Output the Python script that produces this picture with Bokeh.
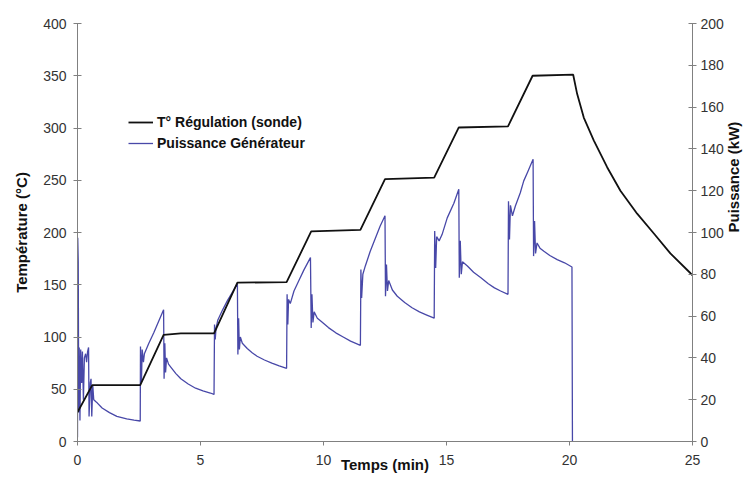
import math
from bokeh.plotting import figure
from bokeh.models import Range1d, LinearAxis, Legend, LegendItem, FixedTicker
from bokeh.embed import file_html
from bokeh.resources import INLINE

# ---- data ----
temp_t = [0.0, 0.6, 2.55, 3.5, 4.2, 5.55, 6.5, 8.5, 9.5, 11.5, 12.5, 14.5, 15.5,
          17.5, 18.5, 20.15, 20.31, 20.58, 20.99, 21.53, 22.07, 22.75, 23.43,
          24.1, 24.92, 25.0]
temp_v = [28, 54, 54, 102, 103.5, 103.5, 152, 152.5, 201, 202.5, 251, 252.5, 300.5,
          301.5, 350, 351, 332.7, 310, 288, 262.5, 240, 218, 199, 180, 161, 159]

power_t = [0.0, 0.01, 0.03, 0.05, 0.07, 0.1, 0.13, 0.17, 0.2, 0.24, 0.28, 0.33,
           0.37, 0.41, 0.45, 0.47, 0.52, 0.55, 0.58, 0.62, 0.66, 0.75, 0.8, 1.0,
           1.3, 1.6, 2.0, 2.3, 2.55,
           2.56, 2.6, 2.63, 2.68, 2.72, 2.9, 3.1, 3.3, 3.5, 3.52, 3.55, 3.58, 3.62,
           3.7, 3.8, 4.0, 4.2, 4.5, 4.8, 5.1, 5.4, 5.55,
           5.57, 5.6, 5.63, 5.7, 5.9, 6.1, 6.3, 6.5, 6.52, 6.55, 6.58, 6.62, 6.7,
           6.9, 7.1, 7.3, 7.6, 7.9, 8.2, 8.5,
           8.52, 8.55, 8.58, 8.65, 8.8, 9.0, 9.2, 9.47, 9.5, 9.53, 9.57, 9.62, 9.75,
           9.9, 10.2, 10.5, 10.8, 11.1, 11.5,
           11.52, 11.55, 11.6, 11.7, 11.9, 12.1, 12.3, 12.5, 12.52, 12.56, 12.6,
           12.65, 12.8, 13.0, 13.3, 13.6, 13.9, 14.2, 14.5,
           14.52, 14.56, 14.6, 14.7, 14.82, 15.03, 15.3, 15.5, 15.52, 15.56, 15.6,
           15.65, 15.85, 16.1, 16.4, 16.7, 16.95, 17.2, 17.5,
           17.52, 17.56, 17.6, 17.68, 17.8, 18.0, 18.14, 18.3, 18.52, 18.54, 18.58,
           18.62, 18.68, 18.8, 18.96, 19.2, 19.5, 19.8, 20.1, 20.12]
power_v = [2, 97.5, 86, 14, 45, 10, 44, 28, 43, 20, 40, 42,
           38, 43, 45, 12, 28, 30, 12, 27, 20, 19, 18.5, 16,
           13.8, 12, 10.8, 10.2, 9.8,
           45.5, 29, 44, 38, 42, 47, 52, 57.5, 63, 30, 47, 33, 40,
           37, 35.5, 32.5, 30, 27.5, 25.5, 24.2, 23.2, 22.5,
           56, 48.8, 54, 58, 63, 67.5, 71.5, 75.5, 41.6, 59, 44, 50, 47,
           44.5, 42.5, 40.8, 39, 37.5, 36.2, 35,
           70.4, 56, 68, 66, 72, 77, 82, 88, 54.3, 70.4, 57, 62, 59,
           57.5, 54.5, 52, 50, 48, 46,
           82.3, 68.7, 80, 84, 91, 97, 103, 108, 69.5, 84.7, 72,
           77, 72.5, 69.5, 66.5, 64, 62, 60.5, 59,
           100.7, 83, 98, 96, 99, 107, 114, 120.7, 78.3, 96, 80,
           86, 84, 81, 78.3, 75.5, 73.5, 72, 70.4,
           115, 96.7, 113, 108, 112.7, 119, 124.7, 129, 135, 88.7, 105.5,
           90, 95, 92.5, 91, 89, 87, 85.5, 83.5, 0]

x_ticks = [0, 5, 10, 15, 20, 25]
temp_ticks = [0, 50, 100, 150, 200, 250, 300, 350, 400]
power_ticks = [0, 20, 40, 60, 80, 100, 120, 140, 160, 180, 200]

FONT = "Liberation Sans"
AXIS_COL = "#808080"
TXT_COL = "#333333"

p = figure(width=753, height=477, output_backend="svg", toolbar_location=None,
           x_range=Range1d(0, 25), y_range=Range1d(0, 400),
           min_border_left=77, min_border_right=61, min_border_top=23,
           min_border_bottom=36, x_axis_location=None, y_axis_location=None)
p.outline_line_color = None
p.xgrid.visible = False
p.ygrid.visible = False
p.extra_y_ranges = {"power": Range1d(0, 200)}

def style(ax):
    ax.axis_line_color = AXIS_COL
    ax.major_tick_line_color = AXIS_COL
    ax.minor_tick_line_color = None
    ax.major_label_text_font = FONT
    ax.major_label_text_font_size = "14px"
    ax.major_label_text_color = TXT_COL
    ax.axis_label_text_font = FONT
    ax.axis_label_text_font_style = "bold"
    ax.axis_label_text_font_size = "15px"
    ax.axis_label_text_color = "#111111"

xa = LinearAxis(ticker=FixedTicker(ticks=x_ticks), axis_label="Temps (min)")
style(xa)
xa.major_tick_in = 0
xa.major_tick_out = 4
xa.major_label_standoff = 9
xa.axis_label_standoff = -12
p.add_layout(xa, "below")

ya = LinearAxis(ticker=FixedTicker(ticks=temp_ticks), axis_label="Température (°C)")
style(ya)
ya.major_tick_in = 4
ya.major_tick_out = 4
ya.major_label_standoff = 7
ya.axis_label_standoff = 10
p.add_layout(ya, "left")

yr = LinearAxis(ticker=FixedTicker(ticks=power_ticks), y_range_name="power",
                axis_label="Puissance (kW)")
style(yr)
yr.major_tick_in = 4
yr.major_tick_out = 4
yr.major_label_standoff = 4
yr.axis_label_standoff = 7
yr.axis_label_orientation = math.pi / 2
p.add_layout(yr, "right")

r_p = p.line(power_t, power_v, y_range_name="power", line_color="#4848A8",
             line_width=1.3)
r_t = p.line(temp_t, temp_v, line_color="#111111", line_width=1.8)

legend = Legend(items=[LegendItem(label="T° Régulation (sonde)", renderers=[r_t]),
                       LegendItem(label="Puissance Générateur", renderers=[r_p])],
                location=(51, 288))
legend.border_line_color = None
legend.background_fill_alpha = 0
legend.padding = 0
legend.margin = 0
legend.spacing = 1
legend.glyph_width = 25
legend.glyph_height = 20
legend.label_height = 20
legend.label_standoff = 4
legend.label_text_font = FONT
legend.label_text_font_style = "bold"
legend.label_text_font_size = "14px"
legend.label_text_color = "#111111"
p.add_layout(legend, "center")

open("out.html", "w").write(file_html(p, INLINE))
